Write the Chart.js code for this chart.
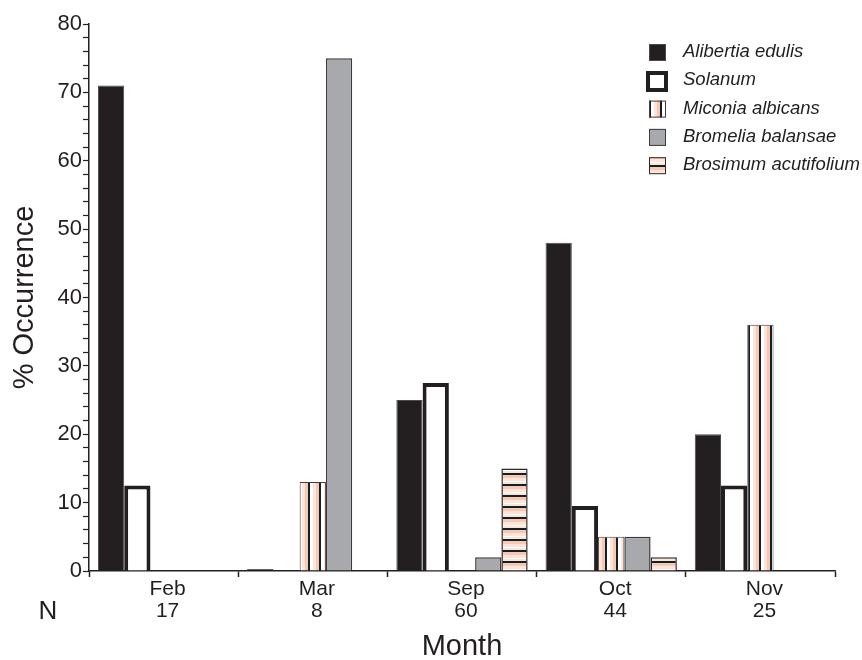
<!DOCTYPE html>
<html>
<head>
<meta charset="utf-8">
<script src="https://cdn.jsdelivr.net/npm/chart.js@4.4.1/dist/chart.umd.min.js"></script>
<style>
  html, body { margin: 0; padding: 0; background: #fff; }
  #wrap { width: 862px; height: 660px; }
</style>
</head>
<body>
<div id="wrap"><canvas id="chart" width="862" height="660"></canvas></div>
<script>
// Values (% occurrence per month)
const months = ['Feb', 'Mar', 'Sep', 'Oct', 'Nov'];
const sampleSizes = [17, 8, 60, 44, 25];
const alibertia = [71, 0, 25, 48, 20];
const solanum = [12.5, 0, 27.5, 9.5, 12.5];
const miconia = [0, 13, 0, 5, 36];
const bromelia = [0, 75, 2, 5, 0];
const brosimum = [0, 0, 15, 2, 0];
const yMajorStep = 10;

const FONT = "'Liberation Sans', Arial, Helvetica, sans-serif";
const INK = '#231f20';

// striped fills, built once on small canvases
function stripePattern(stripes, vertical) {
    const period = stripes.reduce((s, st) => s + st[1], 0);
    const c = document.createElement('canvas');
    c.width = vertical ? period : 1;
    c.height = vertical ? 1 : period;
    const g = c.getContext('2d');
    let pos = 0;
    stripes.forEach(([color, size]) => {
        g.fillStyle = color;
        if (vertical) g.fillRect(pos, 0, size, 1);
        else g.fillRect(0, pos, 1, size);
        pos += size;
    });
    return g.createPattern(c, 'repeat');
}

const vStripes = stripePattern([
    ['#0f2026', 2], ['#ffffff', 3], ['#fde4d8', 3], ['#f8c9b2', 3]
], true);
const hStripes = stripePattern([
    ['#0f2026', 2], ['#f8c9b2', 3], ['#fde4d8', 3], ['#ffffff', 1], ['#fde4d8', 2]
], false);

// Legend in the top-right corner, drawn over the plot
const cornerLegend = {
    id: 'cornerLegend',
    afterDraw(chart) {
        const ctx = chart.ctx;
        ctx.save();
        ctx.font = 'italic 18.5px ' + FONT;
        ctx.textBaseline = 'middle';
        chart.data.datasets.forEach((ds, i) => {
            const cy = 52 + i * 28.3;
            const x = 649, s = 17;
            if (ds.legendOpen) {
                ctx.fillStyle = '#fff';
                ctx.fillRect(x - 1, cy - 7, 18, 17);
                ctx.lineWidth = 4;
                ctx.strokeStyle = INK;
                ctx.strokeRect(x - 1, cy - 7.3, 18, 17);
            } else {
                ctx.fillStyle = ds.backgroundColor;
                ctx.fillRect(x, cy - 8, s, s);
                ctx.lineWidth = 1;
                ctx.strokeStyle = ds.borderColor;
                ctx.strokeRect(x + 0.5, cy - 7.5, s - 1, s - 1);
            }
            ctx.fillStyle = INK;
            ctx.fillText(ds.label, 683, cy);
        });
        ctx.restore();
    }
};

// Sample sizes under the month names, plus the "N" row header
const sampleRow = {
    id: 'sampleRow',
    afterDraw(chart) {
        const ctx = chart.ctx;
        const xs = chart.scales.x;
        ctx.save();
        ctx.fillStyle = INK;
        ctx.textBaseline = 'middle';
        ctx.textAlign = 'center';
        ctx.font = '21px ' + FONT;
        sampleSizes.forEach((n, i) => {
            ctx.fillText(String(n), xs.getPixelForValue(i) + 4, 611);
        });
        ctx.font = '26px ' + FONT;
        ctx.fillText('N', 48, 612);
        ctx.restore();
    }
};

const ctx = document.getElementById('chart').getContext('2d');
new Chart(ctx, {
    type: 'bar',
    data: {
        labels: months,
        datasets: [
            { label: 'Alibertia edulis', data: alibertia, backgroundColor: INK, borderColor: '#4d4a4b', borderWidth: 1, minBarLength: 2 },
            { label: 'Solanum', data: solanum, backgroundColor: '#ffffff', borderColor: INK, borderWidth: 4, legendOpen: true },
            { label: 'Miconia albicans', data: miconia, backgroundColor: vStripes, borderColor: '#4a3c38', borderWidth: 1 },
            { label: 'Bromelia balansae', data: bromelia, backgroundColor: '#a7a9ac', borderColor: '#3b3b3d', borderWidth: 1.5 },
            { label: 'Brosimum acutifolium', data: brosimum, backgroundColor: hStripes, borderColor: '#2a2a2a', borderWidth: 1.5 }
        ]
    },
    options: {
        responsive: false,
        animation: false,
        layout: { padding: { top: 24, right: 27, left: 0, bottom: 0 } },
        datasets: {
            bar: { barPercentage: 1, categoryPercentage: 0.88 }
        },
        plugins: {
            legend: { display: false },
            tooltip: { enabled: false }
        },
        scales: {
            x: {
                afterFit: s => { s.height = 89; },
                border: { display: true, color: INK, width: 1.5 },
                grid: { drawOnChartArea: false, drawTicks: true, tickLength: 6, tickColor: INK, tickWidth: 1.5, offset: true },
                ticks: { color: INK, font: { family: FONT, size: 21 }, padding: 0, labelOffset: 4, maxRotation: 0 },
                title: { display: true, text: 'Month', color: INK, font: { family: FONT, size: 29, lineHeight: 1 }, padding: { top: 0, bottom: -1 } }
            },
            y: {
                min: 0,
                max: 80,
                afterFit: s => { s.width = 89; },
                border: { display: true, color: INK, width: 1.5 },
                grid: { drawOnChartArea: false, drawTicks: true, tickLength: 6, tickColor: INK, tickWidth: 1.2 },
                ticks: {
                    stepSize: 2,
                    autoSkip: false,
                    color: INK,
                    padding: 1,
                    font: { family: FONT, size: 22 },
                    callback: v => (v % yMajorStep === 0 ? String(v) : '')
                },
                title: { display: true, text: '% Occurrence', color: INK, font: { family: FONT, size: 29, lineHeight: 1 }, padding: { top: 10, bottom: 0 } }
            }
        }
    },
    plugins: [cornerLegend, sampleRow]
});
</script>
</body>
</html>
